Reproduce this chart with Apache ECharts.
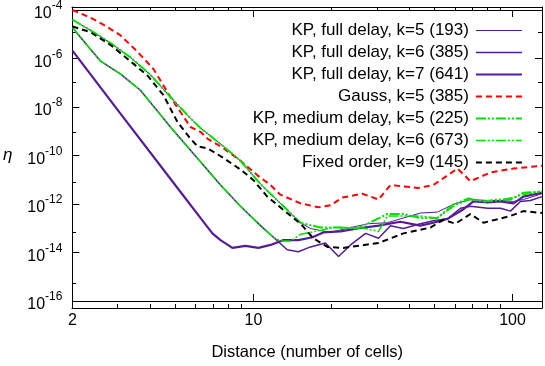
<!DOCTYPE html>
<html>
<head>
<meta charset="utf-8">
<script src="https://cdn.jsdelivr.net/npm/echarts@6/dist/echarts.min.js"></script>
<style>
  html, body { margin: 0; padding: 0; background: #fff; }
  #chart { width: 545px; height: 366px; }
</style>
</head>
<body>
<div id="chart"></div>
<script>
// [distance in cells, eta]
const kpFull5 = [[2,3.99e-5],[2.35,1.45e-5],[2.8,4.41e-6],[3.35,1.11e-6],[4.0,2.13e-7],[4.78,2.58e-8],[5.71,3.42e-9],[6.24,1.37e-9],[7.66,2.39e-10],[8.91,6.03e-11],[10.64,6.65e-12],[13.05,8.05e-13],[15.2,1.69e-13],
  [16.6,9.75e-14],[19.8,6.75e-14],[23.7,1.07e-13],[27.8,1.54e-13],[32.9,1.69e-13],[36.9,2.44e-13],[44.1,4.24e-13],[51.3,4.65e-13],[59.2,9.68e-13],[68.8,1.53e-12],[80.1,1.40e-12],[89.9,1.40e-12],[100.9,1.27e-12],[110.2,1.53e-12],[130,2.65e-12]];
const kpFull6 = [[2,1.91e-5],[2.27,3.67e-6],[2.57,7.71e-7],[3.06,2.33e-7],[3.66,4.91e-8],[4.78,1.50e-9],[6.24,5.50e-11],[7.46,6.07e-12],[8.91,8.05e-13],[10.64,1.28e-13],[11.94,4.27e-14],
  [13.5,1.29e-14],[14.9,1.08e-14],[16.6,1.70e-14],[18.96,2.46e-14],[21.3,6.8e-15],[23.7,2.05e-14],[27.1,6.15e-14],[30.4,3.89e-14],[33.8,1.28e-13],[37.9,9.75e-14],[44.1,1.54e-13],[49.5,2.03e-13],[56.1,2.44e-13],[63.0,6.70e-13],[68.8,8.05e-13],[80.1,6.70e-13],[89.9,6.70e-13],[98.2,5.09e-13],[107.3,1.27e-12],[117.3,1.40e-12],[130,2.02e-12]];
const kpFull7 = [[2,2.12e-6],[3.06,5.42e-9],[5.22,3.19e-12],[6.24,2.67e-13],[6.94,6.15e-14],[7.46,3.24e-14],[8.29,1.55e-14],[9.31,1.87e-14],[10.45,1.55e-14],[11.63,2.05e-14],[13.05,3.24e-14],[14.9,3.24e-14],[16.9,4.27e-14],[18.6,6.75e-14],[21.7,7.40e-14],[25.2,9.75e-14],[30.4,1.28e-13],[36.9,1.85e-13],[44.1,1.28e-13],[49.5,1.69e-13],[56.1,2.44e-13],[64.7,6.11e-13],[70.7,1.27e-12],[80.1,1.16e-12],[89.9,1.27e-12],[100.9,1.06e-12],[110.2,2.02e-12],[130,2.91e-12]];
const gauss5 = [[2,1e-4],[2.35,4.8e-5],[2.63,2.52e-5],[3.06,9.19e-6],[3.56,1.93e-6],[4.11,3.70e-7],[4.78,2.58e-8],[5.71,1.50e-9],[6.24,9.46e-10],[6.64,4.98e-10],[7.66,1.99e-10],[8.91,6.03e-11],[10.36,1.52e-11],[11.63,6.07e-12],[12.7,2.42e-12],[15.2,1.06e-12],[17.8,7.34e-13],[19.8,8.83e-13],[22.05,1.84e-12],[26.35,2.65e-12],[30.4,1.53e-12],[33.8,6.07e-12],[43.3,4.6e-12],[49.5,6.07e-12],[61.3,2.89e-11],[68.8,8.75e-12],[82.2,2.0e-11],[100.9,2.89e-11],[130,3.81e-11]];
const kpMed5 = [[2,3.99e-5],[2.35,1.45e-5],[2.8,4.41e-6],[3.35,1.11e-6],[4.0,2.13e-7],[4.78,2.58e-8],[5.71,3.42e-9],[6.24,1.37e-9],[7.66,2.39e-10],[8.91,6.03e-11],[10.64,6.65e-12],[13.05,8.05e-13],[15.2,1.69e-13],
  [18.1,1.07e-13],[21.1,1.07e-13],[25.2,9.75e-14],[29.05,2.03e-13],[32.9,3.86e-13],[37.9,3.86e-13],[44.1,2.67e-13],[51.3,2.67e-13],[59.2,9.68e-13],[67.6,1.68e-12],[77.3,1.27e-12],[87.5,1.53e-12],[98.2,1.53e-12],[110.2,2.91e-12],[130,3.19e-12]];
const kpMed6 = [[2,1.91e-5],[2.27,3.67e-6],[2.57,7.71e-7],[3.06,2.33e-7],[3.66,4.91e-8],[4.78,1.50e-9],[6.24,5.50e-11],[7.46,6.07e-12],[8.91,8.05e-13],[10.64,1.28e-13],[11.94,4.27e-14],
  [12.7,2.95e-14],[13.9,2.95e-14],[15.2,5.61e-14],[18.1,8.11e-14],[20.36,1.07e-13],[25.9,1.07e-13],[30.4,7.40e-14],[32.9,3.21e-13],[37.9,3.21e-13],[44.1,3.21e-13],[51.3,2.67e-13],[59.2,8.05e-13],[67.6,1.53e-12],[77.3,1.27e-12],[89.9,1.40e-12],[110.2,2.42e-12],[130,3.5e-12]];
const fixed9 = [[2,2.10e-5],[2.35,1.21e-5],[2.8,3.67e-6],[3.35,7.71e-7],[3.9,1.95e-7],[4.49,3.10e-8],[5.09,2.37e-9],[5.71,4.98e-10],[6.08,2.39e-10],[6.64,1.99e-10],[7.66,7.94e-11],[8.91,2.64e-11],[10.0,9.6e-12],[11.3,2.02e-12],[13.5,4.24e-13],[15.2,1.54e-13],[17.0,3.89e-14],[19.3,1.70e-14],[22.2,1.55e-14],[30.4,2.46e-14],[37.9,6.15e-14],[48.2,1.07e-13],[54.1,2.23e-13],[60.2,1.54e-13],[68.8,3.86e-13],[77.3,1.69e-13],[98.2,3.21e-13],[110.2,5.09e-13],[130,4.24e-13]];

const names = ['KP, full delay, k=5 (193)', 'KP, full delay, k=6 (385)', 'KP, full delay, k=7 (641)', 'Gauss, k=5 (385)',
  'KP, medium delay, k=5 (225)', 'KP, medium delay, k=6 (673)', 'Fixed order, k=9 (145)'];

// ticks
const xLabels = [2, 10, 100];
const xMinor = [3, 4, 5, 6, 7, 8, 9, 20, 30, 40, 50, 60, 70, 80, 90];
const yLabelExp = [-16, -14, -12, -10, -8, -6, -4];
const yMinorExp = [-15, -13, -11, -9, -7, -5];

const FONT = 'Liberation Sans';
const purple = '#541c96';
const green = '#00e000';
const pow10 = e => parseFloat('1e' + e);

function xAx(grid, pos, ticks, len, labels) {
  return {
    type: 'log', logBase: 10, min: 2, max: 130, gridIndex: grid, position: pos,
    name: labels ? 'Distance (number of cells)' : '', nameLocation: 'middle', nameGap: 43,
    nameTextStyle: { fontFamily: FONT, fontSize: 16.5, color: '#000' },
    axisLine: { show: true, onZero: false, lineStyle: { color: '#000', width: 1 } },
    axisTick: { show: true, inside: true, length: len, customValues: ticks, lineStyle: { color: '#000' } },
    axisLabel: labels ? { show: true, customValues: labels, margin: 12, fontFamily: FONT, fontSize: 16, color: '#000' } : { show: false },
    splitLine: { show: false }
  };
}
function yAx(grid, pos, exps, len, labels) {
  return {
    type: 'log', logBase: 10, min: 1e-16, max: 1e-4, gridIndex: grid, position: pos,
    name: labels ? 'η' : '', nameLocation: 'middle', nameGap: 60, nameRotate: 0,
    nameTextStyle: { fontFamily: FONT, fontSize: 17, fontStyle: 'italic', color: '#000' },
    axisLine: { show: true, onZero: false, lineStyle: { color: '#000', width: 1 } },
    axisTick: { show: true, inside: true, length: len, customValues: exps.map(pow10), lineStyle: { color: '#000' } },
    axisLabel: labels ? {
      show: true, customValues: exps.map(pow10), margin: 10,
      formatter: v => '{b|10}{s|' + Math.round(Math.log10(v)) + '}',
      rich: {
        b: { fontFamily: FONT, fontSize: 16, color: '#000', padding: [8, 0, 0, 0] },
        s: { fontFamily: FONT, fontSize: 12, color: '#000', padding: [0, 0, 8, 0] }
      }
    } : { show: false },
    splitLine: { show: false }
  };
}

const styles = [
  { color: purple, width: 1, type: 'solid' },
  { color: purple, width: 1.5, type: 'solid' },
  { color: purple, width: 2.2, type: 'solid' },
  { color: '#ff0000', width: 2, type: [6, 4] },
  { color: green, width: 2, type: [10, 2, 2, 2, 2, 2] },
  { color: green, width: 1.5, type: [10, 2, 2, 2, 2, 2] },
  { color: '#000000', width: 2, type: [6, 4] }
];
const allData = [kpFull5, kpFull6, kpFull7, gauss5, kpMed5, kpMed6, fixed9];

const chart = echarts.init(document.getElementById('chart'), null, { renderer: 'canvas' });
chart.setOption({
  animation: false,
  backgroundColor: '#fff',
  grid: [
    { left: 72, right: 3, top: 7, bottom: 58 },
    { left: 72, right: 3, top: 7, bottom: 58 }
  ],
  xAxis: [
    xAx(0, 'bottom', [10, 100], 7, xLabels),
    xAx(0, 'top', [10, 100], 7, null),
    xAx(1, 'bottom', xMinor, 4, null),
    xAx(1, 'top', xMinor, 4, null)
  ],
  yAxis: [
    yAx(0, 'left', yLabelExp, 7, true),
    yAx(0, 'right', yLabelExp, 7, false),
    yAx(1, 'left', yMinorExp, 4, false),
    yAx(1, 'right', yMinorExp, 4, false)
  ],
  legend: {
    orient: 'vertical', right: 17, top: 17, align: 'right',
    itemWidth: 46, itemHeight: 14, itemGap: 5,
    itemStyle: { opacity: 0 },
    textStyle: { fontFamily: FONT, fontSize: 17, color: '#000', padding: [0, 2, 0, 0] },
    data: names.map((n, i) => ({ name: n, lineStyle: { width: styles[i].width, type: styles[i].type, color: styles[i].color } }))
  },
  series: allData.map((d, i) => ({
    name: names[i], type: 'line', xAxisIndex: 0, yAxisIndex: 0,
    data: d, symbol: 'none', smooth: false,
    lineStyle: styles[i], itemStyle: { color: styles[i].color }
  }))
});
</script>
</body>
</html>
